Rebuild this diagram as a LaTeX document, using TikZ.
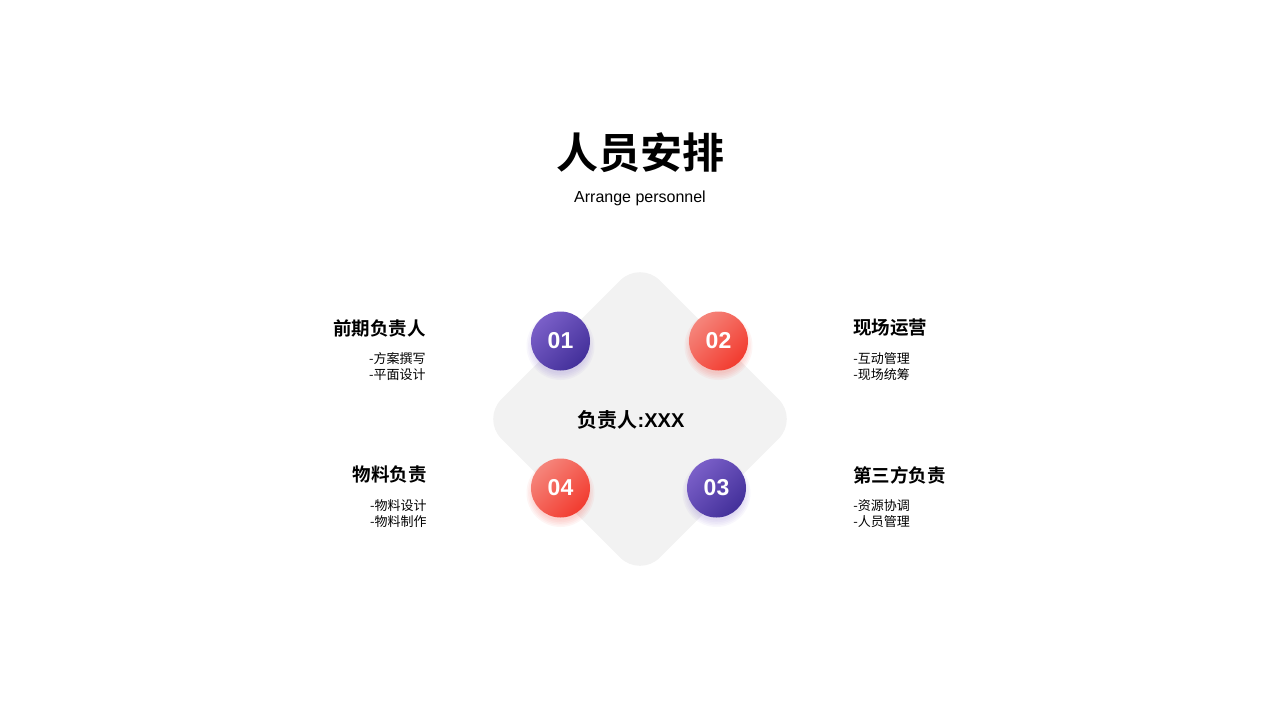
\documentclass[tikz,border=0pt]{standalone}
\usepackage{fontspec}
\setmainfont{Liberation Sans}
\newfontfamily\cjk{Noto Sans CJK SC}[BoldFont={Noto Sans CJK SC Bold}]
\usetikzlibrary{positioning}
\definecolor{plateclr}{HTML}{F2F2F2}
\definecolor{violetlt}{HTML}{7A5FC8}
\definecolor{violetdk}{HTML}{43309A}
\definecolor{redlt}{HTML}{F5857B}
\definecolor{reddk}{HTML}{F23B2F}
\tikzset{ %
  ,plate/.style={fill=plateclr, rounded corners=28pt, minimum size=224pt, inner sep=0, rotate=45}
  ,dot/.style={circle, inner sep=0, minimum size=59pt, text=white, font=\bfseries\fontsize{23}{25}\selectfont}
  ,violetdot/.style={dot, top color=violetlt, bottom color=violetdk, shading angle=45}
  ,reddot/.style={dot, top color=redlt, bottom color=reddk, shading angle=45}
  ,title/.style={inner sep=0, font=\cjk\bfseries\fontsize{42}{46}\selectfont}
  ,subttl/.style={inner sep=0, font=\fontsize{16}{18}\selectfont}
  ,chief/.style={inner sep=0, font=\bfseries\fontsize{20}{22}\selectfont}
  ,head/.style={inner sep=0, font=\cjk\bfseries\fontsize{18.5}{20}\selectfont}
  ,items/.style={inner sep=0, font=\cjk\fontsize{13}{16}\selectfont}
}

\begin{document}
\begin{tikzpicture}[x=1pt, y=-1pt]
  \useasboundingbox (0,0) rectangle (1280,720);
  % title
  \node[title] (ttl) at (640,153) {人员安排};
  \node[subttl, below=18pt of ttl] (sub) {Arrange personnel};
  % plate and soft shadows
  \node[plate] (plate) at (640,419) {};
  \coordinate (p1) at (560.5,341);
  \coordinate (p2) at (718.5,341);
  \coordinate (p3) at (716.5,488);
  \coordinate (p4) at (560.5,488);
  \foreach \p/\c in {p1/violetlt, p2/reddk, p3/violetlt, p4/reddk}
    \foreach \k in {1,...,5}
      \fill[\c, opacity=0.05] ([yshift=-5pt]\p) circle [radius={26pt+\k*1.6pt}];
  % numbered dots
  \node[violetdot] (c1) at (p1) {01};
  \node[reddot] (c2) at (p2) {02};
  \node[violetdot] (c3) at (p3) {03};
  \node[reddot] (c4) at (p4) {04};
  \node[chief, xshift=-9pt, yshift=-1pt] (boss) at (plate.center) {{\cjk 负责人}:XXX};
  % tasks
  \node[head, left=105pt of c1, yshift=13pt] (h1) {前期负责人};
  \node[items, below left=15pt and 0pt of h1.south east, align=right] (s1) {-方案撰写\\-平面设计};
  \node[head, right=105pt of c2, yshift=13pt] (h2) {现场运营};
  \node[items, below right=15pt and 0pt of h2.south west, align=left] (s2) {-互动管理\\-现场统筹};
  \node[head, right=107pt of c3, yshift=13pt] (h3) {第三方负责};
  \node[items, below right=15pt and 0pt of h3.south west, align=left] (s3) {-资源协调\\-人员管理};
  \node[head, left=104pt of c4, yshift=13pt] (h4) {物料负责};
  \node[items, below left=15pt and 0pt of h4.south east, align=right] (s4) {-物料设计\\-物料制作};
\end{tikzpicture}
\end{document}
